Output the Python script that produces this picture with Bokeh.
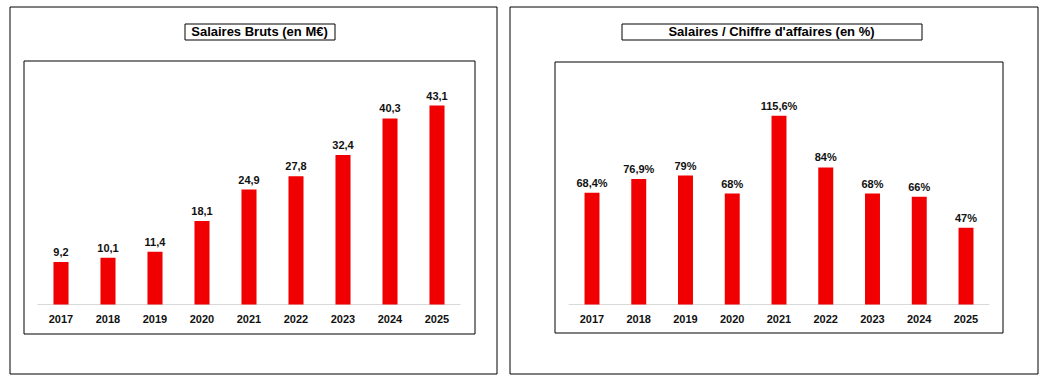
from bokeh.plotting import figure
from bokeh.models import (ColumnDataSource, BoxAnnotation, Label, Range1d,
                          FixedTicker, LinearAxis, Grid)
from bokeh.layouts import row
from bokeh.embed import file_html
from bokeh.resources import INLINE
from bokeh.core.properties import value

# ---- data ----
years = ["2017", "2018", "2019", "2020", "2021", "2022", "2023", "2024", "2025"]
salaires = [9.2, 10.1, 11.4, 18.1, 24.9, 27.8, 32.4, 40.3, 43.1]
salaires_labels = ["9,2", "10,1", "11,4", "18,1", "24,9", "27,8", "32,4", "40,3", "43,1"]
ratio = [68.4, 76.9, 79, 68, 115.6, 84, 68, 66, 47]
ratio_labels = ["68,4%", "76,9%", "79%", "68%", "115,6%", "84%", "68%", "66%", "47%"]

title_left = "Salaires Bruts (en M€)"
title_right = "Salaires / Chiffre d'affaires (en %)"

BAR = "#f00000"
FONT = "Liberation Sans"
H = 380


def panel(title, vals, labels, W, cx0, step, base_y, k, outer, tbox, inner):
    """cx0: pixel x of first bar centre, step: px per category,
    base_y: pixel y of the value axis zero, k: px per unit."""
    n = len(years)
    idx = list(range(n))
    to_x = lambda px: (px - cx0) / step
    to_y = lambda py: (base_y - py) / k

    p = figure(width=W, height=H,
               x_range=Range1d(to_x(0), to_x(W)),
               y_range=Range1d(to_y(H), to_y(0)),
               output_backend="svg", toolbar_location=None, tools="",
               title=None, y_axis_location=None, x_axis_location=None,
               min_border=0, min_border_left=0, min_border_right=0,
               min_border_top=0, min_border_bottom=0)
    p.outline_line_color = None
    p.background_fill_color = "white"
    p.border_fill_color = "white"
    for g in p.select(type=Grid):
        g.visible = False
        g.grid_line_color = None

    # decorative frames (pixel rectangles converted to data space)
    for (x0, y0, x1, y1) in (outer, tbox, inner):
        p.add_layout(BoxAnnotation(left=to_x(x0 + 0.5), right=to_x(x1 + 0.5),
                                   top=to_y(y0 + 0.5), bottom=to_y(y1 + 0.5),
                                   fill_color=None, fill_alpha=0,
                                   line_color="black", line_width=1, line_alpha=1,
                                   level="underlay"))

    src = ColumnDataSource(dict(x=idx, val=vals, lab=labels))
    # category baseline spanning the category bands
    p.segment(x0=[-0.5], y0=[0], x1=[n - 0.5], y1=[0],
              line_color="#d9d9d9", line_width=1)
    p.vbar(x="x", top="val", width=0.32, source=src,
           fill_color=BAR, line_color=None)
    p.text(x="x", y="val", text="lab", source=src,
           text_align="center", text_baseline="alphabetic", y_offset=-10,
           text_font=value(FONT), text_font_style="bold",
           text_font_size="11px", text_color="#111111")

    ax = LinearAxis(ticker=FixedTicker(ticks=idx),
                    major_label_overrides={i: y for i, y in enumerate(years)},
                    fixed_location=0)
    ax.axis_line_color = None
    ax.major_tick_line_color = None
    ax.minor_tick_line_color = None
    ax.major_label_text_font = FONT
    ax.major_label_text_font_style = "bold"
    ax.major_label_text_font_size = "11px"
    ax.major_label_text_color = "#111111"
    ax.major_label_standoff = 4
    p.add_layout(ax, "below")

    cx = (tbox[0] + tbox[2]) / 2
    cy = (tbox[1] + tbox[3]) / 2
    p.add_layout(Label(x=to_x(cx), y=to_y(cy),
                       text=title, text_align="center", text_baseline="middle",
                       text_font=FONT, text_font_style="bold",
                       text_font_size="13px", text_color="black"))
    return p


p1 = panel(title_left, salaires, salaires_labels,
           W=502, cx0=60.5, step=47.0, base_y=304, k=4.617,
           outer=(9, 6, 496, 373), tbox=(184, 23, 334, 39), inner=(23, 60, 474, 333))
p2 = panel(title_right, ratio, ratio_labels,
           W=542, cx0=89.5, step=46.75, base_y=304, k=1.632,
           outer=(7, 6, 535, 373), tbox=(119, 23, 419, 39), inner=(52, 61, 500, 332))

layout = row(p1, p2)
open("out.html", "w").write(file_html(layout, INLINE))
